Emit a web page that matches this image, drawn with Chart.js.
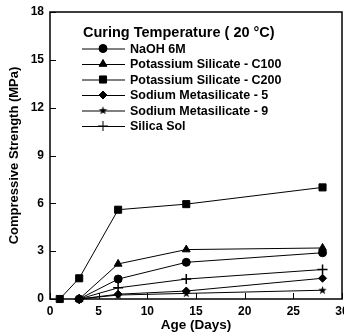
<!DOCTYPE html>
<html><head><meta charset="utf-8">
<script src="https://cdn.jsdelivr.net/npm/chart.js@4/dist/chart.umd.min.js"></script>
<style>html,body{margin:0;padding:0;background:#fff}#wrap{width:344px;height:333px}</style>
</head><body><div id="wrap"><canvas id="c" width="344" height="333"></canvas></div>
<script>
const ages = [1, 3, 7, 14, 28];
const seriesNames = ["NaOH 6M","Potassium Silicate - C100","Potassium Silicate - C200","Sodium Metasilicate - 5","Sodium Metasilicate - 9","Silica Sol"];
const naoh   = [null, 0, 1.25, 2.3, 2.9];
const c100   = [null, 0, 2.2, 3.1, 3.2];
const c200   = [0, 1.3, 5.6, 5.95, 7.0];
const sm5    = [null, 0, 0.3, 0.5, 1.3];
const sm9    = [null, 0, 0.25, 0.35, 0.55];
const sol    = [null, 0, 0.7, 1.25, 1.85];
const xTicks = [0,5,10,15,20,25,30];
const yTicks = [0,3,6,9,12,15,18];
const legendTitle = "Curing Temperature ( 20 \u00B0C)";

const FONT = "'Liberation Sans', Arial, sans-serif";

function starCanvas(){
  const c = document.createElement('canvas'); c.width = 9; c.height = 9;
  const g = c.getContext('2d'); g.fillStyle = '#000'; g.beginPath();
  for(let i=0;i<10;i++){const r = i%2?1.8:4.4; const a = -Math.PI/2 + i*Math.PI/5;
    const x = 4.5 + r*Math.cos(a), y = 4.7 + r*Math.sin(a); i?g.lineTo(x,y):g.moveTo(x,y);}
  g.closePath(); g.fill(); return c;
}
const star = starCanvas();

const styles = [
  {pointStyle:'circle', radius:4},
  {pointStyle:'triangle', radius:4.5},
  {pointStyle:'rect', radius:5},
  {pointStyle:'rectRot', radius:4},
  {pointStyle:star, radius:4},
  {pointStyle:'cross', radius:5}
];
const vals = [naoh, c100, c200, sm5, sm9, sol];
const datasets = vals.map((v,i)=>({
  label: seriesNames[i],
  data: ages.map((a,j)=>v[j]===null?null:{x:a,y:v[j]}).filter(p=>p),
  borderColor:'#000', backgroundColor:'#000', borderWidth:1,
  pointStyle: styles[i].pointStyle, pointRadius: styles[i].radius,
  pointBorderWidth: styles[i].pointStyle==='cross'?1.5:1,
  pointBorderColor:'#000', pointBackgroundColor:'#000', tension:0, clip:false
}));

const framePlugin = {
  id:'frame',
  afterDraw(chart){
    const {ctx, chartArea:a, scales} = chart;
    ctx.save();
    ctx.strokeStyle='#000'; ctx.lineWidth=1.5;
    ctx.strokeRect(a.left, a.top, a.right-a.left, a.bottom-a.top);
    ctx.lineWidth=1;
    ctx.beginPath();
    xTicks.forEach(t=>{const x=Math.round(scales.x.getPixelForValue(t))+0.5; ctx.moveTo(x,a.bottom); ctx.lineTo(x,a.bottom-6);});
    yTicks.forEach(t=>{const y=Math.round(scales.y.getPixelForValue(t))+0.5; ctx.moveTo(a.left,y); ctx.lineTo(a.left+6,y);});
    ctx.stroke();
    // legend
    ctx.fillStyle='#000';
    ctx.font = "bold 14.5px " + FONT; ctx.textBaseline='middle'; ctx.textAlign='left';
    ctx.fillText(legendTitle, 83, 33);
    ctx.font = "bold 12.5px " + FONT;
    chart.data.datasets.forEach((ds,i)=>{
      const y = 48.5 + i*15.5;
      ctx.beginPath(); ctx.lineWidth=1; ctx.strokeStyle='#000';
      ctx.moveTo(82, y+0.5); ctx.lineTo(125, y+0.5); ctx.stroke();
      Chart.helpers.drawPoint(ctx, {pointStyle: ds.pointStyle, radius: ds.pointRadius, borderWidth: ds.pointBorderWidth}, 103, y);
      if (typeof ds.pointStyle === 'string' && ds.pointStyle!=='cross') ctx.fill();
      ctx.fillText(ds.label, 130, y+1);
    });
    ctx.restore();
  }
};

function noPad(s){
  s.paddingRight=0; s.paddingLeft=0; s.paddingTop=0; s.paddingBottom=0;
  s.getPadding = () => ({left:0, right:0, top:0, bottom:0});
}

new Chart(document.getElementById('c'), {
  type:'line',
  data:{datasets},
  options:{
    responsive:false, animation:false, devicePixelRatio:1,
    layout:{autoPadding:false, padding:{top:12, right:2, left:0, bottom:0}},
    plugins:{legend:{display:false}, tooltip:{enabled:false}},
    scales:{
      x:{type:'linear', min:0, max:30,
        afterBuildTicks(s){ s.ticks = xTicks.map(v=>({value:v})); },
        afterFit(s){ noPad(s); s.height=34; },
        grid:{display:false, drawTicks:false}, border:{display:false},
        ticks:{color:'#000', font:{family:FONT, weight:'bold', size:12}, padding:5, maxRotation:0, autoSkip:false},
        title:{display:true, text:'Age (Days)', color:'#000', font:{family:FONT, weight:'bold', size:13.5}, padding:{top:0,bottom:0}}
      },
      y:{type:'linear', min:0, max:18,
        afterBuildTicks(s){ s.ticks = yTicks.map(v=>({value:v})); },
        afterFit(s){ noPad(s); s.width=50; },
        grid:{display:false, drawTicks:false}, border:{display:false},
        ticks:{color:'#000', font:{family:FONT, weight:'bold', size:12}, padding:6},
        title:{display:true, text:'Compressive Strength (MPa)', color:'#000', font:{family:FONT, weight:'bold', size:13}, padding:{top:7,bottom:0}}
      }
    }
  },
  plugins:[framePlugin]
});
</script></body></html>
